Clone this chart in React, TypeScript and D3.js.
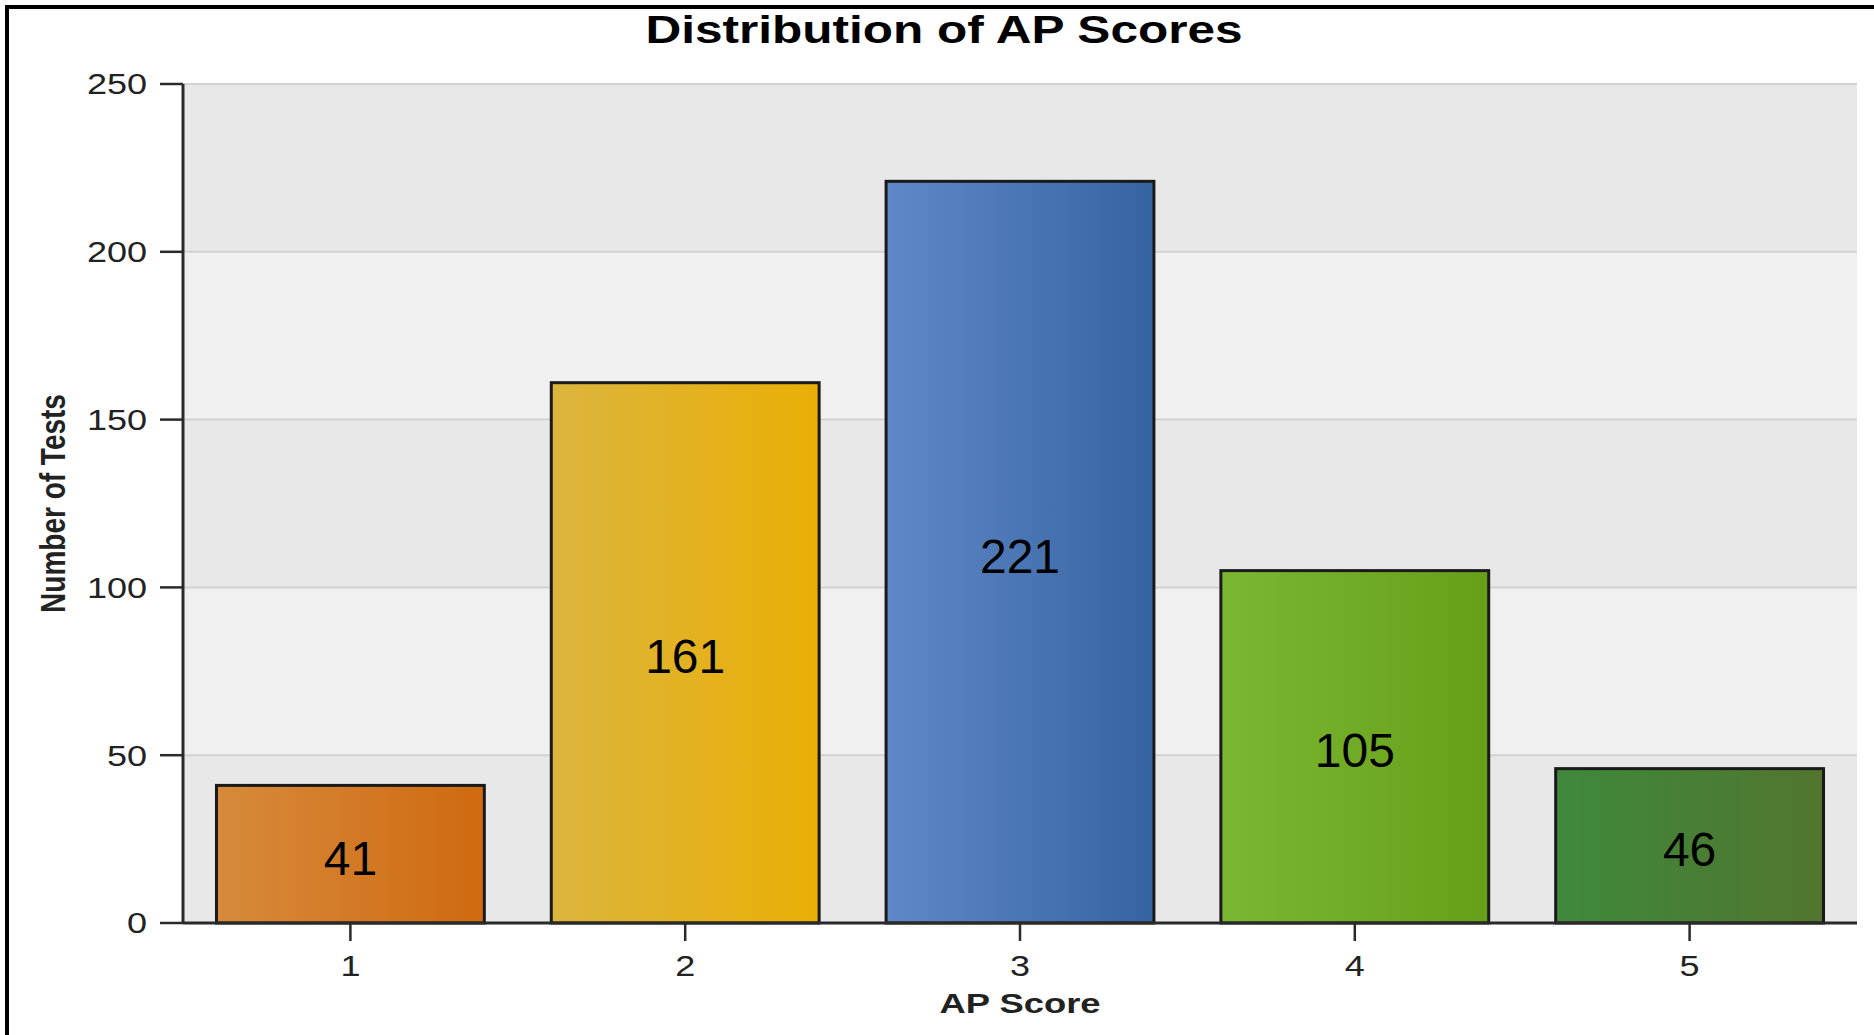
import React from "react";
import * as d3 from "d3";

const WIDTH = 1874;
const HEIGHT = 1035;
const MARGINS = { LEFT: 183, RIGHT: 17, TOP: 84, BOTTOM: 112 };

const TITLE = "Distribution of AP Scores";
const X_LABEL = "AP Score";
const Y_LABEL = "Number of Tests";

const scores = ["1", "2", "3", "4", "5"];
const counts = [41, 161, 221, 105, 46];
const yTicks = [0, 50, 100, 150, 200, 250];

// left -> right gradient stops for each bar
const gradLeft = ["#d78a3c", "#dcb53e", "#6088c8", "#7cb733", "#3e893c"];
const gradRight = ["#cf6a10", "#e9af05", "#3664a0", "#66a018", "#52752e"];

const FONT = "'Liberation Sans', Arial, sans-serif";

const App: React.FC = () => {
  const x0 = MARGINS.LEFT;
  const x1 = WIDTH - MARGINS.RIGHT;
  const yBase = HEIGHT - MARGINS.BOTTOM;

  const xScale = d3
    .scaleBand<string>()
    .domain(scores)
    .range([x0, x1])
    .paddingInner(0.2)
    .paddingOuter(0.1);

  const yScale = d3.scaleLinear().domain([0, 250]).range([yBase, MARGINS.TOP]);

  return (
    <svg
      width={WIDTH}
      height={HEIGHT}
      style={{ position: "absolute", left: 0, top: 0, background: "#fff" }}
    >
      <defs>
        {scores.map((s, i) => (
          <linearGradient key={s} id={`bar-grad-${i}`} x1="0" x2="1" y1="0" y2="0">
            <stop offset="0%" stopColor={gradLeft[i]} />
            <stop offset="100%" stopColor={gradRight[i]} />
          </linearGradient>
        ))}
      </defs>

      {/* frame */}
      <line x1={7} x2={7} y1={5} y2={HEIGHT} stroke="#000" strokeWidth={4} />
      <line x1={5} x2={WIDTH} y1={7} y2={7} stroke="#000" strokeWidth={4} />

      {/* background bands */}
      {yTicks.slice(0, -1).map((t, i) => (
        <rect
          key={`band-${t}`}
          x={x0}
          y={yScale(yTicks[i + 1])}
          width={x1 - x0}
          height={yScale(t) - yScale(yTicks[i + 1])}
          fill={i % 2 === 0 ? "#e8e8e8" : "#f0f0f0"}
        />
      ))}

      {/* grid lines */}
      {yTicks.slice(1).map((t) => (
        <line
          key={`grid-${t}`}
          x1={x0}
          x2={x1}
          y1={yScale(t)}
          y2={yScale(t)}
          stroke="#d2d2d2"
          strokeWidth={2}
        />
      ))}

      {/* bars */}
      {scores.map((s, i) => (
        <rect
          key={`bar-${s}`}
          x={xScale(s)}
          y={yScale(counts[i])}
          width={xScale.bandwidth()}
          height={yBase - yScale(counts[i])}
          fill={`url(#bar-grad-${i})`}
          stroke="#1a1a1a"
          strokeWidth={3}
        />
      ))}

      {/* value labels */}
      {scores.map((s, i) => (
        <text
          key={`val-${s}`}
          x={(xScale(s) as number) + xScale.bandwidth() / 2}
          y={(yScale(counts[i]) + yBase) / 2 + 4}
          textAnchor="middle"
          dominantBaseline="central"
          fontFamily={FONT}
          fontSize={48}
          fill="#000"
        >
          {counts[i]}
        </text>
      ))}

      {/* y axis */}
      <line x1={x0} x2={x0} y1={MARGINS.TOP} y2={yBase} stroke="#2a2a2a" strokeWidth={3} />
      {yTicks.map((t) => (
        <g key={`ytick-${t}`}>
          <line x1={x0 - 23} x2={x0} y1={yScale(t)} y2={yScale(t)} stroke="#2a2a2a" strokeWidth={2.5} />
          <text
            transform={`translate(${x0 - 36},${yScale(t)}) scale(1.2,1)`}
            textAnchor="end"
            dominantBaseline="central"
            fontFamily={FONT}
            fontSize={30}
            fill="#222"
          >
            {t}
          </text>
        </g>
      ))}

      {/* x axis */}
      <line x1={x0} x2={x1} y1={yBase} y2={yBase} stroke="#2a2a2a" strokeWidth={3} />
      {scores.map((s) => {
        const cx = (xScale(s) as number) + xScale.bandwidth() / 2;
        return (
          <g key={`xtick-${s}`}>
            <line x1={cx} x2={cx} y1={yBase} y2={yBase + 18} stroke="#2a2a2a" strokeWidth={2.5} />
            <text
              transform={`translate(${cx},${yBase + 53}) scale(1.2,1)`}
              textAnchor="middle"
              fontFamily={FONT}
              fontSize={30}
              fill="#222"
            >
              {s}
            </text>
          </g>
        );
      })}

      {/* axis titles */}
      <text
        transform={`translate(${(x0 + x1) / 2},${yBase + 90}) scale(1.3,1)`}
        textAnchor="middle"
        fontFamily={FONT}
        fontWeight="bold"
        fontSize={28}
        fill="#222"
      >
        {X_LABEL}
      </text>
      <text
        transform={`translate(65,${(MARGINS.TOP + yBase) / 2}) scale(1.25,1) rotate(-90)`}
        textAnchor="middle"
        fontFamily={FONT}
        fontWeight="bold"
        fontSize={28}
        fill="#222"
      >
        {Y_LABEL}
      </text>

      {/* title */}
      <text
        transform={`translate(944,43) scale(1.27,1)`}
        textAnchor="middle"
        fontFamily={FONT}
        fontWeight="bold"
        fontSize={39}
        fill="#000"
      >
        {TITLE}
      </text>
    </svg>
  );
};

export default App;
